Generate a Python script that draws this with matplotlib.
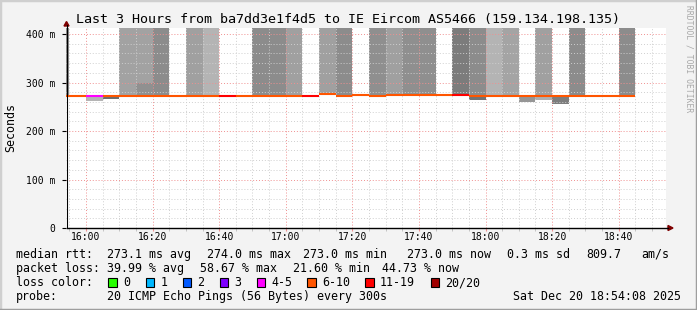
import matplotlib
matplotlib.use("Agg")
import matplotlib.pyplot as plt
from matplotlib.lines import Line2D
from matplotlib.patches import Rectangle, Polygon
import numpy as np

W, H = 697, 310
nan = np.nan

title = "Last 3 Hours from ba7dd3e1f4d5 to IE Eircom AS5466 (159.134.198.135)"

# 5 minute steps, start in minutes after 16:00
step_start = np.arange(-10, 165, 5)
median_ms = [273, 273, 272, 272, 273, 273, 273, 273, 273, 273,
             273, 273, 273, 273, 273, 273, 275.5, 272.5, 274.5, 272.5,
             274.5, 275, 275, 273.5, 273.5, 273, 273, 273, 273, 273,
             273, 273, 273, 273, 273]
loss_pct = [40, 35, 21.6, 33, 45, 40, 48, 35, 42, 45,
            58.67, 38, 47, 50, 43, 56, 40, 47, 35, 46,
            42, 45, 44, 36, 57, 45, 42, 43, 34, 44,
            36, 47, 33, 32, 44.73]
# smoke above / below the median (nan = none on that side)
smoke_max = [600, nan, nan, nan, 600, 600, 600, nan, 600, 600,
             nan, nan, 600, 600, 600, nan, 600, 600, nan, 600,
             600, 600, 600, nan, 600, 600, 600, 600, nan, 600,
             nan, 600, nan, nan, 600]
smoke_min = [nan, nan, 262, 267, nan, nan, nan, nan, nan, nan,
             nan, nan, nan, nan, nan, nan, nan, nan, nan, nan,
             nan, nan, nan, nan, nan, 263, nan, nan, 259, 264,
             255, nan, nan, nan, nan]
# where the upper smoke changes density (16:15 step)
smoke_split = [nan] * 5 + [300] + [nan] * 29
# smoke density as grey level
grey_up = [140, 0, 0, 0, 162, 162, 140, 0, 160, 180,
           0, 0, 140, 140, 160, 0, 160, 140, 0, 143,
           160, 143, 143, 0, 124, 140, 180, 164, 0, 160,
           0, 140, 0, 0, 140]
grey_split = [0] * 5 + [144] + [0] * 29
grey_down = [0, 0, 180, 110, 0, 0, 0, 0, 0, 0,
             0, 0, 0, 0, 0, 0, 0, 0, 0, 0,
             0, 0, 0, 0, 0, 115, 0, 0, 150, 175,
             125, 0, 0, 0, 0]

window = (-5.87, 174.13)   # 15:54:08 .. 18:54:08
tick_minutes = [0, 20, 40, 60, 80, 100, 120, 140, 160]
tick_labels = ["16:00", "16:20", "16:40", "17:00", "17:20",
               "17:40", "18:00", "18:20", "18:40"]
y_ticks = [0, 100, 200, 300, 400]
y_labels = ["0", "100 m", "200 m", "300 m", "400 m"]

loss_bins = ["0", "1", "2", "3", "4-5", "6-10", "11-19", "20/20"]
loss_colors = ["#26ff00", "#00b8ff", "#0059ff", "#7e00ff",
               "#ff00ff", "#ff5500", "#ff0000", "#a10000"]

rtt_stats = ["273.1 ms avg", "274.0 ms max", "273.0 ms min",
             "273.0 ms now", "0.3 ms sd", "809.7", "am/s"]
loss_stats = ["39.99 % avg", "58.67 % max", "21.60 % min", "44.73 % now"]
probe_text = "20 ICMP Echo Pings (56 Bytes) every 300s"
stamp = "Sat Dec 20 18:54:08 2025"


def loss_color(p):
    n = p / 100 * 20
    for lim, c in zip([0, 1, 2, 3, 5, 10, 19.99, 20], loss_colors):
        if n <= lim:
            return c
    return loss_colors[-1]


def grey(v):
    return "#%02x%02x%02x" % (v, v, v)


def fx(x):
    return x / W


def fy(y):
    return 1 - y / H


plt.rcParams["font.family"] = ["DejaVu Sans Mono"]
fig = plt.figure(figsize=(W / 100, H / 100), dpi=100, facecolor="#f3f3f3")
ax = fig.add_axes([fx(66.46), fy(228), 599.3 / W, 200 / H])
ax.set_facecolor("white")

med = np.array(median_ms, float)
smax = np.array(smoke_max, float)
smin = np.array(smoke_min, float)
ssplit = np.array(smoke_split, float)

# smoke
for i, s in enumerate(step_start):
    if not np.isnan(smax[i]):
        ax.bar(s, smax[i] - med[i], bottom=med[i], width=5, align="edge",
               color=grey(grey_up[i]), linewidth=0, zorder=1)
    if not np.isnan(ssplit[i]):
        ax.bar(s, ssplit[i] - med[i], bottom=med[i], width=5, align="edge",
               color=grey(grey_split[i]), linewidth=0, zorder=1)
    if not np.isnan(smin[i]):
        ax.bar(s, med[i] - smin[i], bottom=smin[i], width=5, align="edge",
               color=grey(grey_down[i]), linewidth=0, zorder=1)

# median line coloured by loss
ax.hlines(med, step_start, step_start + 5,
          colors=[loss_color(p) for p in loss_pct], lw=1.5, zorder=4)

ax.set_xlim(*window)
ax.set_ylim(0, 412.4)
ax.set_xticks(tick_minutes)
ax.set_xticklabels(tick_labels)
ax.set_xticks(np.arange(-5, 175, 5), minor=True)
ax.set_yticks(y_ticks)
ax.set_yticklabels(y_labels)
ax.set_yticks(np.arange(0, 412, 20), minor=True)

ax.set_axisbelow(False)
ax.grid(which="minor", color="#cfcfcf", lw=0.7, linestyle=(0, (1, 2)))
ax.grid(which="major", color="#f09090", lw=0.7, linestyle=(0, (1, 2)))

for sp in ["top", "right", "left", "bottom"]:
    ax.spines[sp].set_visible(False)

ax.tick_params(axis="x", which="major", length=2, color="#f09090",
               labelsize=7, pad=1.2)
ax.tick_params(axis="x", which="minor", length=2, color="#bbbbbb")
ax.tick_params(axis="y", which="major", length=3, color="black",
               labelsize=7, pad=5)
ax.tick_params(axis="y", which="minor", length=0)

# axes with arrows
fig.add_artist(Line2D([fx(66.5), fx(668)], [fy(228), fy(228)],
                      color="black", lw=1.0, transform=fig.transFigure))
fig.add_artist(Line2D([fx(66.5), fx(66.5)], [fy(228), fy(25)],
                      color="black", lw=0.8, transform=fig.transFigure))
fig.add_artist(Polygon([[fx(668), fy(225.5)], [fx(673), fy(228)],
                        [fx(668), fy(230.5)]], closed=True,
                       color="#7f0000", transform=fig.transFigure))
fig.add_artist(Polygon([[fx(64), fy(26)], [fx(66.5), fy(21.5)],
                        [fx(69), fy(26)]], closed=True,
                       color="#7f0000", transform=fig.transFigure))

# title, labels
fig.text(fx(348.5), fy(19.3), title, ha="center", va="center", fontsize=9.6)
fig.text(fx(10.5), fy(128), "Seconds", rotation=90, ha="center",
         va="center", fontsize=8.4)
fig.text(fx(688.5), fy(5), "RRDTOOL / TOBI OETIKER", rotation=270,
         ha="center", va="top", fontsize=5.8, color="#a8a8a8")

# legend
fs = 8.4
r1, r2, r3, r4 = 254.3, 268.3, 282.5, 296.2
fig.text(fx(16), fy(r1), "median rtt:", va="center", fontsize=fs)
for x, t in zip([107, 207, 303.3, 407, 506.7, 586, 641.7], rtt_stats):
    fig.text(fx(x), fy(r1), t, va="center", fontsize=fs)
fig.text(fx(16), fy(r2), "packet loss:", va="center", fontsize=fs)
for x, t in zip([107, 200, 293, 381.7], loss_stats):
    fig.text(fx(x), fy(r2), t, va="center", fontsize=fs)
fig.text(fx(16), fy(r3), "loss color:", va="center", fontsize=fs)
box_x = [108.3, 145.5, 182.5, 219.5, 256.5, 307.3, 365.3, 430.7]
for bx, lab, c in zip(box_x, loss_bins, loss_colors):
    fig.add_artist(Rectangle((fx(bx), fy(r3 + 4.2)), 8.5 / W, 8.5 / H,
                             facecolor=c, edgecolor="black", lw=0.8,
                             transform=fig.transFigure))
    fig.text(fx(bx + 14.8), fy(r3), lab, va="center", fontsize=fs)
fig.text(fx(16), fy(r4), "probe:", va="center", fontsize=fs)
fig.text(fx(107), fy(r4), probe_text, va="center", fontsize=fs)
fig.text(fx(513.3), fy(r4), stamp, va="center", fontsize=fs)

# frame
fig.add_artist(Line2D([0, 0, 1], [0, 1, 1], color="#cfcfcf", lw=2.5,
                      transform=fig.transFigure))
fig.add_artist(Line2D([0, 1, 1], [0, 0, 1], color="#9e9e9e", lw=2.5,
                      transform=fig.transFigure))

fig.savefig("out.png", dpi=100, facecolor=fig.get_facecolor())
